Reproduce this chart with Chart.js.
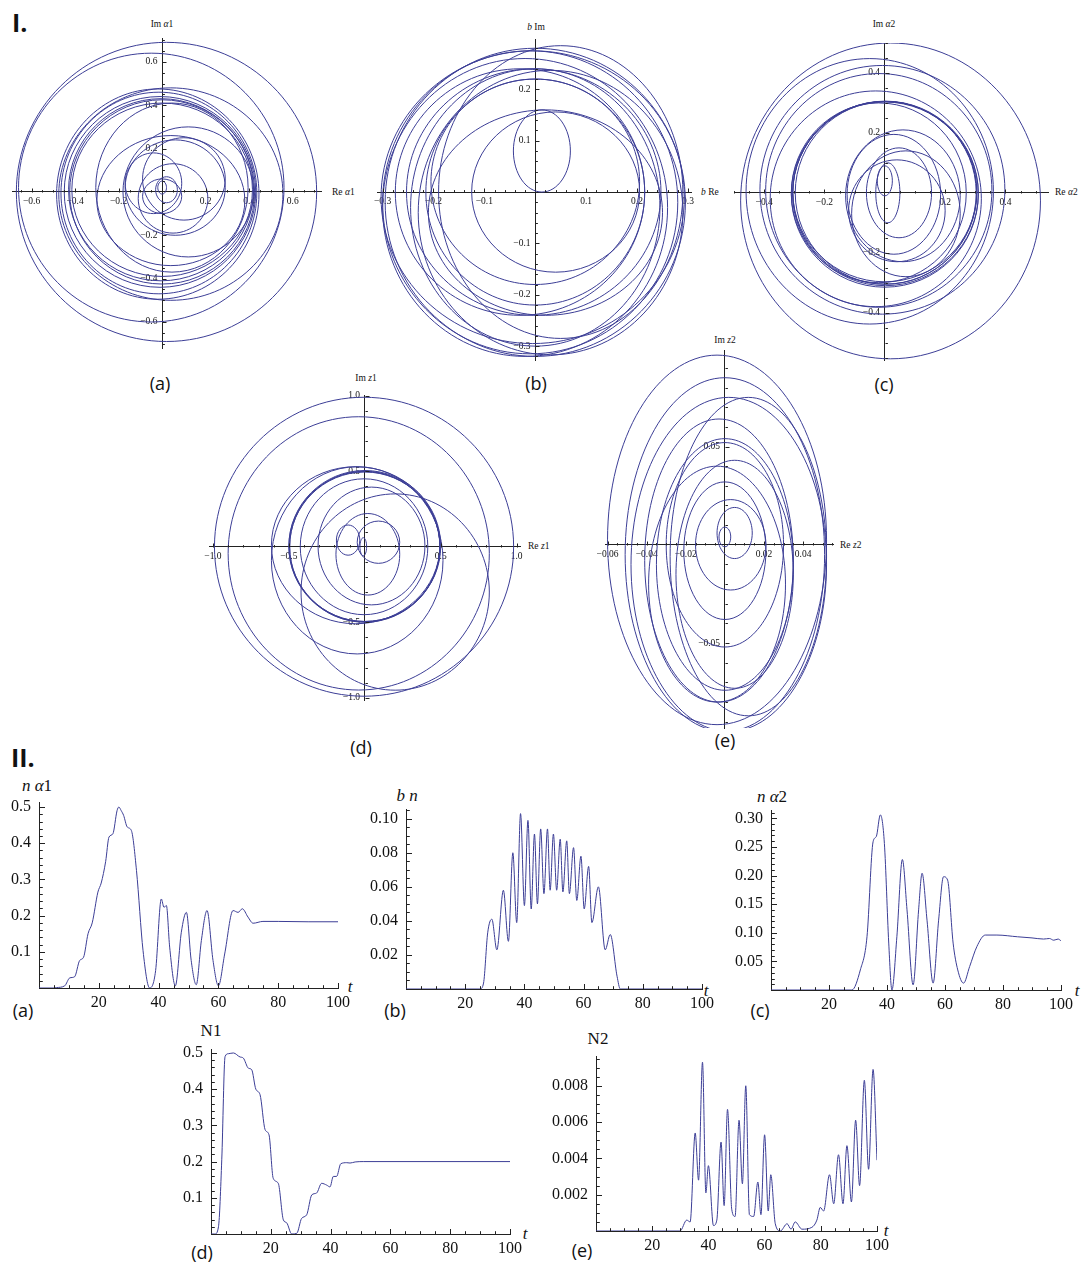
<!DOCTYPE html>
<html>
<head>
<meta charset="utf-8">
<script src="https://cdn.jsdelivr.net/npm/chart.js@4.4.0/dist/chart.umd.min.js"></script>
<style>
  body { margin: 0; background: #fff; width: 1082px; height: 1263px; position: relative; overflow: hidden; }
  canvas { position: absolute; }
  .t { position: absolute; white-space: nowrap; line-height: 1; color: #111; }
  .c { transform: translate(-50%, -50%); }
  .l { transform: translate(0, -50%); }
  .big { font-family: "Open Sans", "Liberation Sans", sans-serif; font-weight: 700; font-size: 25px; }
  .pl { font-family: "Open Sans", "Liberation Sans", sans-serif; font-size: 18px; }
  .ax { font-family: "Liberation Serif", serif; font-size: 9.5px; }
  .axb { font-family: "Liberation Serif", serif; font-size: 17px; }
</style>
</head>
<body>
<div class="t big" style="left:12px;top:10px">I.</div>
<div class="t big" style="left:11px;top:745px">II.</div>

<div class="t ax c" style="left:162px;top:25px">Im <i>α</i>1</div>
<div class="t ax l" style="left:332px;top:193px">Re <i>α</i>1</div>
<div class="t ax c" style="left:536px;top:28px"><i>b</i> Im</div>
<div class="t ax l" style="left:701px;top:193px"><i>b</i> Re</div>
<div class="t ax c" style="left:884px;top:25px">Im <i>α</i>2</div>
<div class="t ax l" style="left:1055px;top:193px">Re <i>α</i>2</div>
<div class="t ax c" style="left:366px;top:379px">Im <i>z</i>1</div>
<div class="t ax l" style="left:528px;top:547px">Re <i>z</i>1</div>
<div class="t ax c" style="left:725px;top:341px">Im <i>z</i>2</div>
<div class="t ax l" style="left:840px;top:546px">Re <i>z</i>2</div>

<div class="t pl c" style="left:160px;top:383px">(a)</div>
<div class="t pl c" style="left:536px;top:383px">(b)</div>
<div class="t pl c" style="left:884px;top:384px">(c)</div>
<div class="t pl c" style="left:361px;top:747px">(d)</div>
<div class="t pl c" style="left:725px;top:740px">(e)</div>

<div class="t axb c" style="left:37px;top:785px"><i>n</i> <i>α</i>1</div>
<div class="t axb c" style="left:407px;top:795px"><i>b</i> <i>n</i></div>
<div class="t axb c" style="left:772px;top:796px"><i>n</i> <i>α</i>2</div>
<div class="t axb c" style="left:211px;top:1030px">N1</div>
<div class="t axb c" style="left:598px;top:1038px">N2</div>
<div class="t axb c" style="left:350px;top:986px"><i>t</i></div>
<div class="t axb c" style="left:706px;top:990px"><i>t</i></div>
<div class="t axb c" style="left:1077px;top:990px"><i>t</i></div>
<div class="t axb c" style="left:525px;top:1233px"><i>t</i></div>
<div class="t axb c" style="left:886px;top:1230px"><i>t</i></div>

<div class="t pl c" style="left:23px;top:1010px">(a)</div>
<div class="t pl c" style="left:395px;top:1010px">(b)</div>
<div class="t pl c" style="left:760px;top:1010px">(c)</div>
<div class="t pl c" style="left:202px;top:1252px">(d)</div>
<div class="t pl c" style="left:582px;top:1250px">(e)</div>

<script>
// phase portraits: each loop as [centre x, centre y, half width, half height]
const alpha1Loops = [
  [0.00, 0.02, 0.02, 0.03], [0.02, 0.01, 0.05, 0.06], [0.00, -0.02, 0.09, 0.08],
  [-0.04, 0.04, 0.13, 0.14], [0.05, -0.03, 0.16, 0.16], [0.10, 0.06, 0.19, 0.19],
  [0.06, 0.02, 0.23, 0.22], [0.12, 0.00, 0.30, 0.30], [0.04, -0.04, 0.34, 0.30],
  [0.045, 0.02, 0.35, 0.39], [-0.015, -0.005, 0.45, 0.465], [0.04, -0.01, 0.515, 0.49],
  [-0.05, 0.02, 0.61, 0.62], [0.02, 0.00, 0.69, 0.69], [-0.02, -0.01, 0.465, 0.485],
  [-0.01, 0.00, 0.44, 0.44], [-0.005, 0.01, 0.425, 0.42], [0.00, 0.01, 0.415, 0.40],
  [0.00, 0.00, 0.425, 0.425]
];
const bLoops = [
  [0.013, 0.08, 0.056, 0.08], [0.04, 0.00, 0.165, 0.156], [0.00, 0.02, 0.205, 0.20],
  [0.00, 0.00, 0.215, 0.22], [-0.03, 0.00, 0.245, 0.24], [-0.003, 0.00, 0.25, 0.24],
  [0.00, -0.03, 0.245, 0.27], [0.05, 0.00, 0.24, 0.285], [0.03, -0.04, 0.26, 0.277],
  [-0.02, -0.03, 0.28, 0.29], [-0.01, -0.02, 0.29, 0.295], [0.00, -0.02, 0.295, 0.30],
  [-0.005, -0.01, 0.298, 0.285], [0.02, -0.04, 0.23, 0.20]
];
const alpha2Loops = [
  [0.00, 0.04, 0.025, 0.05], [0.01, 0.00, 0.04, 0.10], [0.047, 0.00, 0.108, 0.15],
  [0.03, -0.005, 0.155, 0.20], [0.04, -0.06, 0.16, 0.17], [0.07, -0.07, 0.18, 0.21],
  [0.06, -0.01, 0.19, 0.22], [-0.02, 0.00, 0.29, 0.30], [-0.03, -0.02, 0.35, 0.36],
  [-0.02, 0.008, 0.375, 0.39], [-0.008, 0.01, 0.406, 0.415], [0.019, -0.027, 0.497, 0.527],
  [-0.05, 0.005, 0.41, 0.443], [0.00, 0.00, 0.305, 0.305], [0.00, -0.005, 0.31, 0.31],
  [0.003, 0.00, 0.30, 0.305], [0.00, 0.003, 0.305, 0.30], [0.002, -0.002, 0.308, 0.308]
];
const z1Loops = [
  [-0.01, 0.00, 0.022, 0.06], [-0.11, 0.044, 0.077, 0.10], [0.09, 0.03, 0.14, 0.14],
  [0.02, -0.05, 0.21, 0.27], [0.044, 0.005, 0.352, 0.39], [-0.005, 0.00, 0.42, 0.45],
  [-0.06, 0.01, 0.555, 0.52], [-0.04, -0.044, 0.86, 0.905], [-0.005, 0.00, 0.985, 0.99],
  [0.20, -0.30, 0.62, 0.65], [-0.05, -0.09, 0.565, 0.62], [0.00, 0.00, 0.495, 0.50],
  [0.00, 0.00, 0.495, 0.495], [0.00, 0.005, 0.50, 0.50], [-0.003, 0.00, 0.497, 0.498]
];
const z2Loops = [
  [0.000, 0.004, 0.003, 0.005], [0.005, 0.006, 0.009, 0.013], [0.003, 0.000, 0.018, 0.023],
  [0.000, -0.003, 0.021, 0.035], [0.005, -0.015, 0.030, 0.058], [0.000, 0.000, 0.030, 0.052],
  [-0.004, -0.020, 0.035, 0.060], [0.000, -0.010, 0.035, 0.064], [-0.003, -0.008, 0.038, 0.072],
  [0.012, -0.006, 0.040, 0.081], [0.002, -0.010, 0.050, 0.085], [0.000, -0.005, 0.051, 0.090],
  [-0.004, 0.0025, 0.056, 0.094]
];

// time series
const tA1 = [0, 5, 5.8, 8.6, 10.3, 11.9, 13.6, 14.9, 16.4, 17.8, 19.7, 20.8, 22.3, 23.4, 24.7, 26.1, 26.7, 27.5, 28.3, 29.5,
  30.9, 32.6, 34.8, 37, 39, 40.9, 41.8, 42.6, 43.7, 45.6, 47.6, 49.3, 50.9, 52.6, 54.3, 56.2, 58.2, 60, 62.1, 64.9,
  66.6, 68, 69.9, 71.6, 74.9, 80, 90, 100];
const nA1 = [0, 0, 0.001, 0.006, 0.028, 0.031, 0.076, 0.085, 0.15, 0.18, 0.265, 0.29, 0.35, 0.417, 0.426, 0.49, 0.5, 0.49, 0.477, 0.445,
  0.435, 0.325, 0.103, 0, 0.048, 0.246, 0.223, 0.228, 0.113, 0.006, 0.154, 0.209, 0.076, 0.009, 0.131, 0.214, 0.076, 0.006, 0.094, 0.214,
  0.209, 0.219, 0.196, 0.179, 0.184, 0.184, 0.183, 0.183];
const tB = [0, 25, 26.2, 27.6, 29, 30.7, 32.9, 34.6, 36.1, 37.4, 38.7, 40, 41.2, 42.3, 43.4, 44.4, 45.5, 46.6, 47.8, 48.7,
  49.8, 50.9, 52.1, 53, 54.3, 55.2, 56.6, 57.7, 59.1, 60.2, 61.7, 62.8, 65, 67.3, 69, 71.3, 72.4, 100];
const nB = [0, 0, 0.0035, 0.033, 0.041, 0.023, 0.058, 0.028, 0.08, 0.039, 0.103, 0.049, 0.099, 0.047, 0.091, 0.05, 0.094, 0.056, 0.094, 0.058,
  0.091, 0.058, 0.088, 0.057, 0.087, 0.056, 0.083, 0.052, 0.078, 0.047, 0.072, 0.039, 0.06, 0.023, 0.032, 0.0075, 0, 0];
const tA2 = [0, 27.9, 30.8, 33.1, 35.2, 36.3, 37.7, 39.1, 40.6, 41.7, 43.4, 45.3, 46.9, 49, 50.9, 52.1, 53.8, 55.9, 57.8, 59.5,
  60.9, 62.8, 64.4, 66.4, 68.5, 71, 73.9, 77.9, 85, 90, 94, 96, 97.5, 99, 100];
const nA2 = [0, 0, 0.035, 0.093, 0.259, 0.268, 0.306, 0.256, 0.082, 0, 0.093, 0.228, 0.14, 0.009, 0.14, 0.204, 0.122, 0.012, 0.122, 0.198,
  0.192, 0.082, 0.035, 0.012, 0.041, 0.076, 0.096, 0.096, 0.093, 0.091, 0.089, 0.09, 0.087, 0.089, 0.086];
const tN1 = [0, 1.3, 2.5, 3.6, 4.7, 5.8, 7.5, 9.7, 10.8, 12.5, 13.6, 15, 16.4, 18.1, 19.4, 20.8, 22.5, 24.2, 25.3, 27,
  28.7, 30.3, 32, 33.7, 35.3, 37, 38.7, 39.8, 40.9, 42, 43.4, 45.4, 46.5, 48.2, 50.9, 100];
const vN1 = [0, 0, 0.02, 0.205, 0.49, 0.498, 0.5, 0.489, 0.486, 0.458, 0.454, 0.4, 0.385, 0.288, 0.274, 0.154, 0.14, 0.039, 0.031, 0,
  0.002, 0.043, 0.053, 0.108, 0.113, 0.14, 0.135, 0.13, 0.159, 0.159, 0.194, 0.197, 0.196, 0.199, 0.2, 0.2];
const tN2 = [0, 29.9, 32.3, 33.5, 35.3, 36.5, 37.9, 39.1, 40, 41.8, 43, 44.5, 45.6, 46.8, 48.3, 49.5, 50.9, 52.1, 53.3, 54.6,
  56.1, 57.6, 58.7, 60, 61.3, 62.2, 63.8, 65.6, 68, 69.4, 70.9, 73.3, 76.8, 78.6, 79.8, 81, 83.1, 84.6, 86.3, 87.9,
  89.3, 90.9, 92.4, 93.8, 95.5, 97, 98.6, 100];
const vN2 = [0, 0, 0.0006, 0.0005, 0.0054, 0.0028, 0.0093, 0.0021, 0.0036, 0.0003, 0.0006, 0.0049, 0.0014, 0.0067, 0.0012, 0.0008, 0.0061, 0.0026, 0.008, 0.0009,
  0.0008, 0.0027, 0.0009, 0.0053, 0.0011, 0.0031, 0.0004, 0, 0.0004, 0.0001, 0.0005, 0.0001, 0.0002, 0.0006, 0.0013, 0.0011, 0.0031, 0.0015, 0.0042, 0.0015,
  0.0047, 0.0016, 0.0061, 0.0025, 0.0083, 0.0034, 0.0089, 0.0039];

const BLUE = "rgb(60,62,150)";
const SERIF = "'Liberation Serif', 'DejaVu Serif', serif";
const PAD = 50;

// one closed loop through its four extremes; the first and last
// points only steer the curve and their segments are hidden
function loopPoints([cx, cy, rx, ry]) {
  const B = { x: cx, y: cy - ry }, R = { x: cx + rx, y: cy };
  const T = { x: cx, y: cy + ry }, L = { x: cx - rx, y: cy };
  return [L, B, R, T, L, B, R];
}
function series(ts, vs) {
  return ts.map((t, i) => ({ x: t, y: vs[i] }));
}
function fmt(v, d) {
  return (v < 0 ? "\u2212" : "") + Math.abs(v).toFixed(d);
}

// Mathematica style ticks: inward, major + minor
const mmaTicks = {
  id: "mmaTicks",
  afterDraw(chart, args, o) {
    if (!o.len) return;
    const { ctx } = chart;
    const xs = chart.scales.x, ys = chart.scales.y;
    const ox = Math.round(xs.getPixelForValue(0)) + 0.5;
    const oy = Math.round(ys.getPixelForValue(0)) + 0.5;
    ctx.save();
    ctx.strokeStyle = "#222";
    ctx.lineWidth = 1;
    ctx.beginPath();
    const each = (sc, minor, major, fn) => {
      const n0 = Math.ceil(sc.min / minor - 1e-6), n1 = Math.floor(sc.max / minor + 1e-6);
      for (let i = n0; i <= n1; i++) {
        if (i === 0) continue;
        const v = i * minor;
        const big = Math.abs(v / major - Math.round(v / major)) < 1e-6;
        fn(Math.round(sc.getPixelForValue(v)) + 0.5, big ? o.len : o.len * 0.6);
      }
    };
    each(xs, o.xMinor, o.xMajor, (p, l) => { ctx.moveTo(p, oy); ctx.lineTo(p, oy - l); });
    each(ys, o.yMinor, o.yMajor, (p, l) => { ctx.moveTo(ox, p); ctx.lineTo(ox + l, p); });
    ctx.stroke();
    ctx.restore();
  }
};
Chart.register(mmaTicks);

function axis(ax, fontSize, pad, gap) {
  return {
    type: "linear",
    position: ax.pos,
    min: ax.min,
    max: ax.max,
    border: { color: "#222", width: 1 },
    grid: { drawOnChartArea: false, drawTicks: false },
    ticks: {
      stepSize: ax.step,
      includeBounds: false,
      autoSkip: false,
      maxRotation: 0,
      padding: pad,
      color: "#111",
      font: { family: SERIF, size: fontSize },
      callback: v => Math.abs(v) < 1e-9 ? "" : fmt(v, ax.dec) + gap
    }
  };
}

function curve(data, opts) {
  const n = data.length;
  return {
    data: data,
    showLine: true,
    borderColor: BLUE,
    borderWidth: 1,
    pointRadius: 0,
    fill: false,
    tension: opts.tension,
    cubicInterpolationMode: opts.mode,
    capBezierPoints: false,
    segment: {
      borderColor: c => opts.hideEnds && (c.p0DataIndex === 0 || c.p1DataIndex === n - 1) ? "rgba(0,0,0,0)" : undefined
    }
  };
}

function panel(area, curves, x, y, opts) {
  const cv = document.createElement("canvas");
  const w = Math.round(area[2] - area[0]) + 2 * PAD;
  const h = Math.round(area[3] - area[1]) + 2 * PAD;
  cv.width = w; cv.height = h;
  cv.style.left = Math.round(area[0] - PAD) + "px";
  cv.style.top = Math.round(area[1] - PAD) + "px";
  cv.style.width = w + "px"; cv.style.height = h + "px";
  document.body.appendChild(cv);
  x.pos = { y: 0 };
  y.pos = { x: 0 };
  return new Chart(cv, {
    type: "scatter",
    data: { datasets: curves.map(d => curve(d, opts)) },
    options: {
      responsive: false,
      animation: false,
      events: [],
      layout: { padding: PAD },
      plugins: {
        legend: { display: false },
        tooltip: { enabled: false },
        mmaTicks: { len: opts.len, xMinor: x.minor, xMajor: x.step, yMinor: y.minor, yMajor: y.step }
      },
      scales: {
        x: axis(x, opts.font, opts.xpad, ""),
        y: axis(y, opts.font, 0, opts.gap)
      }
    }
  });
}

const top5 = { tension: 0.55, mode: "default", font: 9.5, xpad: 4, gap: "  ", len: 4, hideEnds: true };
const bot5 = { tension: 0.4, mode: "monotone", font: 16, xpad: 5, gap: "  ", len: 5.5, hideEnds: false };

// I. phase portraits
panel([12.4, 38.3, 321.5, 348.5], alpha1Loops.map(loopPoints),
  { min: -0.69, max: 0.73, step: 0.2, minor: 0.05, dec: 1 },
  { min: -0.72, max: 0.71, step: 0.2, minor: 0.05, dec: 1 }, top5);
panel([377.3, 39.3, 691.7, 360], bLoops.map(loopPoints),
  { min: -0.311, max: 0.306, step: 0.1, minor: 0.02, dec: 1 },
  { min: -0.327, max: 0.298, step: 0.1, minor: 0.02, dec: 1 }, top5);
panel([734, 42.7, 1048.3, 359.3], alpha2Loops.map(loopPoints),
  { min: -0.50, max: 0.541, step: 0.2, minor: 0.05, dec: 1 },
  { min: -0.558, max: 0.50, step: 0.2, minor: 0.05, dec: 1 }, top5);
panel([209.3, 395, 520, 700], z1Loops.map(loopPoints),
  { min: -1.026, max: 1.022, step: 0.5, minor: 0.1, dec: 1 },
  { min: -1.015, max: 1.005, step: 0.5, minor: 0.1, dec: 1 }, top5);
panel([605, 350, 833.3, 728.3], z2Loops.map(loopPoints),
  { min: -0.0613, max: 0.0553, step: 0.02, minor: 0.005, dec: 2 },
  { min: -0.0932, max: 0.0991, step: 0.05, minor: 0.01, dec: 2 }, top5);

// II. populations against t
panel([39.3, 801.7, 338.3, 987.3], [series(tA1, nA1)],
  { min: 0, max: 100, step: 20, minor: 5, dec: 0 },
  { min: 0, max: 0.514, step: 0.1, minor: 0.02, dec: 1 }, bot5);
panel([406, 809.3, 701.7, 989.3], [series(tB, nB)],
  { min: 0, max: 100, step: 20, minor: 5, dec: 0 },
  { min: 0, max: 0.1057, step: 0.02, minor: 0.005, dec: 2 }, bot5);
panel([770.7, 810, 1060.7, 990], [series(tA2, nA2)],
  { min: 0, max: 100, step: 20, minor: 5, dec: 0 },
  { min: 0, max: 0.3145, step: 0.05, minor: 0.01, dec: 2 }, bot5);
panel([211, 1049.3, 510, 1234], [series(tN1, vN1)],
  { min: 0, max: 100, step: 20, minor: 5, dec: 0 },
  { min: 0, max: 0.511, step: 0.1, minor: 0.02, dec: 1 }, bot5);
panel([596, 1056, 876.7, 1231], [series(tN2, vN2)],
  { min: 0, max: 100, step: 20, minor: 5, dec: 0 },
  { min: 0, max: 0.00964, step: 0.002, minor: 0.0005, dec: 3 }, bot5);
</script>
</body>
</html>
